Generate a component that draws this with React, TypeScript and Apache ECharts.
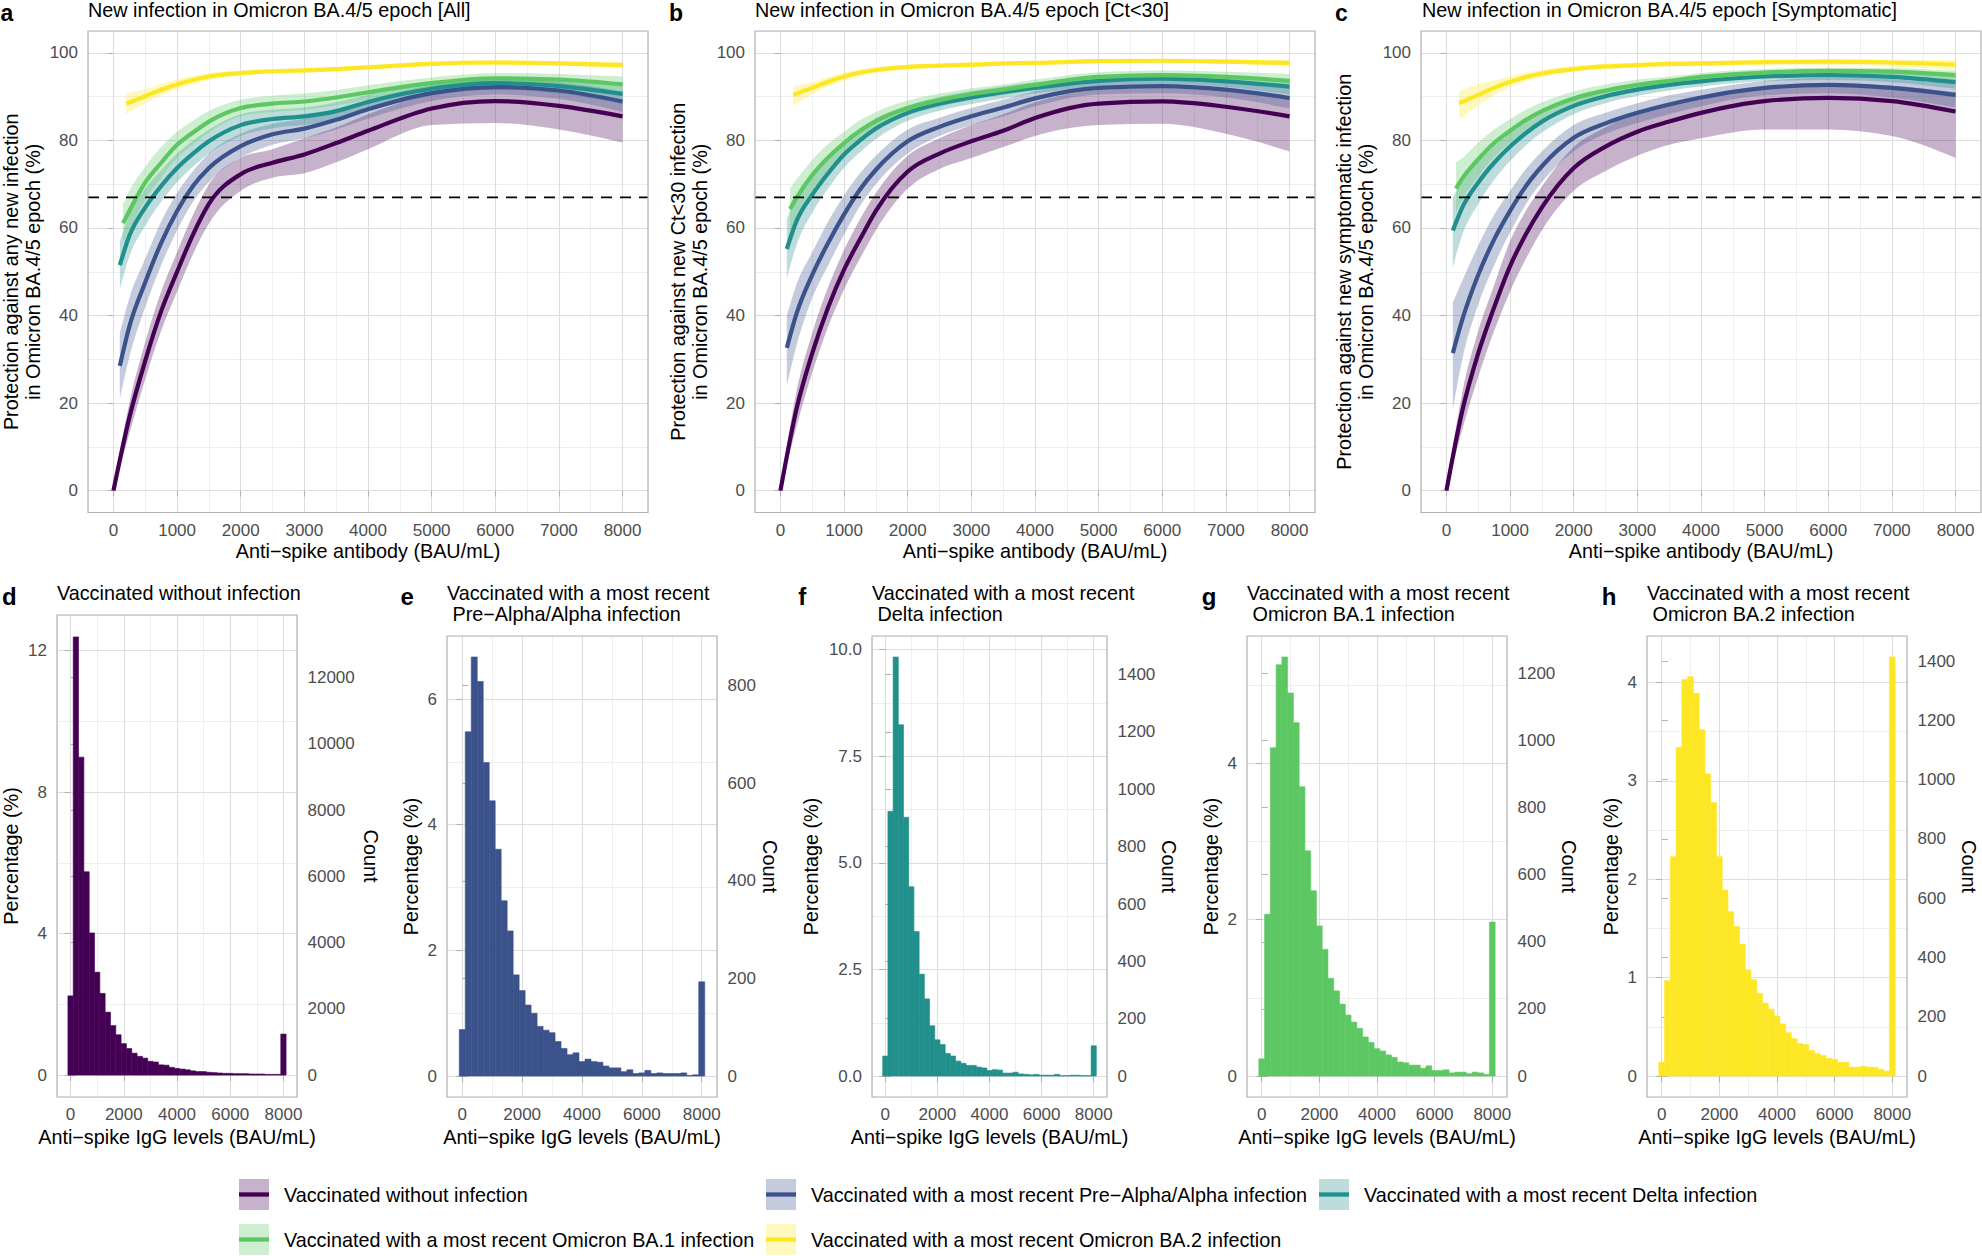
import React, { useEffect, useRef } from "react";
import * as echarts from "echarts";

// ---------------- data ----------------
const GROUPS = [
  "Vaccinated without infection",
  "Vaccinated with a most recent Pre−Alpha/Alpha infection",
  "Vaccinated with a most recent Delta infection",
  "Vaccinated with a most recent Omicron BA.1 infection",
  "Vaccinated with a most recent Omicron BA.2 infection",
];
const GROUP_COLORS = ["#440154", "#3B528B", "#21908C", "#5DC863", "#FDE725"];
const THRESHOLD = 67;

const X_PURPLE = [0, 250, 500, 750, 1000, 1250, 1500, 2000, 2500, 3000, 3500, 4000, 5000, 6000, 7000, 8000];
const X_BLUE = [100, 250, 500, 750, 1000, 1250, 1500, 2000, 2500, 3000, 3500, 4000, 5000, 6000, 7000, 8000];
const X_TEAL = [100, 250, 500, 750, 1000, 1250, 1500, 2000, 2500, 3000, 3500, 4000, 5000, 6000, 7000, 8000];
const X_GREEN = [150, 250, 500, 750, 1000, 1250, 1500, 2000, 2500, 3000, 3500, 4000, 5000, 6000, 7000, 8000];
const X_YELLOW = [200, 500, 750, 1000, 1250, 1500, 2000, 2500, 3000, 3500, 4000, 5000, 6000, 7000, 8000];

// Panel a: [All]
const A_PURPLE_FIT = [0, 16.7, 29.7, 41, 50, 58.5, 65.5, 72.3, 74.9, 76.8, 79.4, 82.2, 87.3, 89, 87.9, 85.5];
const A_PURPLE_LO = [0, 13, 25.5, 36.5, 45.5, 54, 61, 68.5, 71.5, 72.5, 75, 78, 83.5, 84, 82.5, 79.5];
const A_PURPLE_HI = [0.6, 20, 34, 45.5, 54.5, 63, 70, 76, 78, 80.5, 83, 86, 90.5, 92, 91, 88.5];
const A_BLUE_FIT = [28.5, 37.5, 47.6, 56.6, 63.9, 69.6, 73.7, 78.7, 81.4, 82.7, 84.7, 87.1, 90.8, 92.2, 91.4, 88.9];
const A_BLUE_LO = [21, 30.5, 42, 51.5, 59.5, 66, 70.5, 76, 79, 80.5, 82.5, 85, 89, 90.5, 89.5, 86.5];
const A_BLUE_HI = [36, 44, 53, 61.5, 68, 73, 77, 81.5, 83.8, 85, 87, 89.2, 92.6, 93.9, 93.3, 91.2];
const A_TEAL_FIT = [51.5, 58.2, 64.7, 69.6, 73.7, 77, 79.8, 83.5, 84.9, 85.5, 86.7, 88.8, 91.8, 93.1, 92.4, 90.6];
const A_TEAL_LO = [46, 53.5, 60.5, 66, 70.5, 74, 77, 81, 82.8, 83.5, 84.7, 87, 90.3, 91.6, 90.7, 88.3];
const A_TEAL_HI = [57, 63, 69, 73.2, 77, 80, 82.5, 86, 87, 87.5, 88.7, 90.5, 93.2, 94.5, 94, 92.8];
const A_GREEN_FIT = [61.1, 63.9, 70.4, 74.9, 79, 81.8, 84.3, 87.4, 88.4, 88.9, 89.8, 91, 93.1, 94.2, 93.9, 92.8];
const A_GREEN_LO = [56.5, 59.5, 66.5, 71.5, 76, 79, 81.8, 85.5, 86.5, 87, 88, 89.3, 91.8, 93, 92.5, 90.8];
const A_GREEN_HI = [65.5, 68.5, 74, 78.5, 82, 84.5, 86.7, 89.3, 90.2, 90.7, 91.5, 92.6, 94.4, 95.4, 95.2, 94.6];
const A_YELLOW_FIT = [88.4, 90.1, 91.6, 92.8, 93.8, 94.6, 95.4, 95.8, 96, 96.3, 96.7, 97.5, 97.8, 97.6, 97.2];
const A_YELLOW_LO = [86, 88.5, 90.3, 91.7, 92.8, 93.8, 94.8, 95.3, 95.5, 95.8, 96.2, 97, 97.3, 97.1, 96.5];
const A_YELLOW_HI = [90.8, 91.7, 92.9, 93.9, 94.8, 95.4, 96, 96.3, 96.5, 96.8, 97.2, 98, 98.3, 98.1, 97.9];

// Panel b: [Ct<30]
const B_PURPLE_FIT = [0, 18.5, 31.4, 41.9, 50.5, 57.4, 63.9, 72.9, 77, 79.8, 82.2, 85.1, 88.4, 88.9, 87.7, 85.5];
const B_PURPLE_LO = [0, 14.5, 27, 37.5, 46, 53, 59.5, 69, 73.5, 76, 78.5, 81, 83.5, 83.8, 81.5, 77.5];
const B_PURPLE_HI = [0.6, 22.5, 36, 46.5, 55, 62, 68, 76.5, 80.5, 83.5, 86, 88.7, 91.5, 92, 91.5, 90];
const B_BLUE_FIT = [32.6, 40.3, 49.3, 56.6, 63.1, 68.8, 73.3, 79.8, 83.1, 85.5, 87.5, 89.6, 92, 92.4, 91.6, 89.7];
const B_BLUE_LO = [24, 33, 44, 51.5, 58.5, 65, 70, 77, 81, 83.5, 85.5, 87.8, 90.5, 90.8, 89.8, 87.3];
const B_BLUE_HI = [40, 47, 54.5, 61.5, 67.5, 72.5, 76.5, 82.5, 85.2, 87.4, 89.3, 91.3, 93.5, 93.9, 93.3, 92];
const B_TEAL_FIT = [55.2, 61.5, 67.6, 72.5, 76.8, 80, 82.7, 86.3, 88.4, 89.8, 91, 92, 93.6, 94.1, 93.5, 92.3];
const B_TEAL_LO = [48.5, 56, 63.5, 69, 73.8, 77.3, 80.3, 84.5, 86.8, 88.3, 89.6, 90.7, 92.4, 92.9, 92.2, 90.5];
const B_TEAL_HI = [62, 67, 71.7, 76, 79.8, 82.7, 85.1, 88, 90, 91.3, 92.4, 93.3, 94.8, 95.3, 94.8, 94];
const B_GREEN_FIT = [64.3, 66.8, 72.1, 76.1, 79.4, 82.2, 84.4, 87.4, 89.2, 90.6, 91.6, 92.7, 94.5, 94.9, 94.5, 93.6];
const B_GREEN_LO = [59, 62.5, 68.5, 73, 76.8, 79.8, 82.3, 85.7, 87.7, 89.3, 90.4, 91.5, 93.4, 93.8, 93.3, 92];
const B_GREEN_HI = [69, 71, 75.6, 79.2, 82, 84.6, 86.5, 89.1, 90.7, 91.9, 92.8, 93.9, 95.6, 96, 95.7, 95.2];
const B_YELLOW_FIT = [90.4, 92, 93.4, 94.6, 95.5, 96.1, 96.8, 97.1, 97.3, 97.6, 97.7, 98.1, 98.2, 98, 97.7];
const B_YELLOW_LO = [88, 90.6, 92.3, 93.7, 94.7, 95.4, 96.2, 96.6, 96.8, 97.1, 97.3, 97.7, 97.8, 97.5, 96.9];
const B_YELLOW_HI = [92.5, 93.3, 94.5, 95.5, 96.2, 96.7, 97.3, 97.6, 97.8, 98, 98.1, 98.5, 98.6, 98.5, 98.4];

// Panel c: [Symptomatic]
const C_PURPLE_FIT = [0, 18.3, 31.4, 41.9, 51.3, 58.6, 64.7, 73.7, 78.6, 82, 84.3, 86.3, 89, 89.7, 89, 86.6];
const C_PURPLE_LO = [0, 14, 26, 36.5, 45.5, 53, 59.5, 68.5, 73, 76.5, 79, 80.5, 82.5, 82.5, 81, 76];
const C_PURPLE_HI = [0.6, 22.5, 36.5, 47, 57, 64, 69.5, 78.5, 83, 86.5, 88.5, 90, 92, 93, 92.5, 91];
const C_BLUE_FIT = [31.4, 39.1, 49.3, 57.4, 63.9, 69.6, 74.1, 80.6, 83.9, 86.3, 88.2, 89.8, 92, 92.7, 92, 90.4];
const C_BLUE_LO = [18.5, 30, 42.5, 51.5, 59, 65.5, 70.5, 77.5, 81.5, 84, 86, 87.8, 90.3, 90.8, 89.8, 87.5];
const C_BLUE_HI = [43, 48, 56, 63, 68.5, 73.5, 77.5, 83.5, 86.3, 88.5, 90.3, 91.6, 93.6, 94.4, 94, 93];
const C_TEAL_FIT = [59.4, 64.7, 70.4, 74.9, 78.6, 81.7, 84.3, 87.9, 90.1, 91.6, 92.7, 93.5, 94.6, 94.9, 94.5, 93.3];
const C_TEAL_LO = [51, 58.5, 65.5, 71, 75.3, 78.9, 81.8, 86, 88.5, 90.2, 91.4, 92.3, 93.5, 93.8, 93.3, 91.8];
const C_TEAL_HI = [67, 70.5, 75, 78.6, 81.7, 84.3, 86.6, 89.7, 91.6, 92.9, 93.9, 94.6, 95.6, 95.9, 95.6, 94.7];
const C_GREEN_FIT = [69, 71.3, 75.7, 79.4, 82.2, 84.7, 86.7, 89.6, 91.4, 92.7, 93.6, 94.5, 95.5, 95.9, 95.7, 94.9];
const C_GREEN_LO = [63.5, 66.5, 71.8, 76.2, 79.6, 82.4, 84.7, 88, 90, 91.5, 92.6, 93.6, 94.7, 95.1, 94.8, 93.8];
const C_GREEN_HI = [75, 76, 79.5, 82.5, 84.9, 87, 88.7, 91.2, 92.8, 93.9, 94.6, 95.4, 96.3, 96.6, 96.5, 95.9];
const C_YELLOW_FIT = [88.5, 90.4, 92, 93.4, 94.5, 95.3, 96.3, 96.9, 97.2, 97.5, 97.6, 97.9, 98, 97.8, 97.3];
const C_YELLOW_LO = [84.7, 88, 90.4, 92.2, 93.5, 94.5, 95.7, 96.3, 96.6, 96.9, 97, 97.2, 97.2, 96.9, 96];
const C_YELLOW_HI = [91.3, 92.8, 93.7, 94.7, 95.5, 96.1, 97, 97.5, 97.8, 98, 98.1, 98.4, 98.5, 98.5, 98.4];

// Histograms (percentage per 200 BAU/mL bin)
const BIN_WIDTH = 200;
const BIN_CENTERS = [0, 200, 400, 600, 800, 1000, 1200, 1400, 1600, 1800, 2000, 2200, 2400, 2600, 2800, 3000, 3200, 3400, 3600, 3800, 4000, 4200, 4400, 4600, 4800, 5000, 5200, 5400, 5600, 5800, 6000, 6200, 6400, 6600, 6800, 7000, 7200, 7400, 7600, 7800, 8000];
const PCT_D = [2.24, 12.39, 8.99, 5.75, 4.02, 2.91, 2.31, 1.78, 1.4, 1.14, 0.89, 0.75, 0.62, 0.53, 0.48, 0.39, 0.37, 0.29, 0.28, 0.22, 0.19, 0.17, 0.15, 0.12, 0.1, 0.1, 0.08, 0.07, 0.06, 0.05, 0.05, 0.04, 0.04, 0.04, 0.03, 0.03, 0.03, 0.02, 0.02, 0.02, 1.16];
const PCT_E = [0.74, 5.48, 6.67, 6.28, 4.99, 4.38, 3.61, 2.79, 2.31, 1.61, 1.36, 1.13, 1.0, 0.79, 0.73, 0.69, 0.55, 0.44, 0.34, 0.37, 0.23, 0.27, 0.23, 0.22, 0.16, 0.13, 0.13, 0.07, 0.1, 0.04, 0.05, 0.09, 0.04, 0.05, 0.04, 0.04, 0.04, 0.05, 0.01, 0.02, 1.5];
const PCT_F = [0.47, 6.21, 9.83, 8.24, 6.07, 4.44, 3.39, 2.39, 1.81, 1.18, 0.85, 0.74, 0.53, 0.47, 0.35, 0.3, 0.25, 0.25, 0.21, 0.19, 0.13, 0.15, 0.14, 0.07, 0.07, 0.09, 0.05, 0.04, 0.03, 0.04, 0.02, 0.02, 0.02, 0.04, 0.01, 0.01, 0.02, 0.02, 0.01, 0.01, 0.71];
const PCT_G = [0.22, 2.07, 4.2, 5.26, 5.36, 4.9, 4.52, 3.7, 2.88, 2.37, 1.92, 1.62, 1.25, 1.09, 0.92, 0.78, 0.69, 0.61, 0.5, 0.43, 0.35, 0.32, 0.27, 0.24, 0.18, 0.17, 0.14, 0.14, 0.1, 0.13, 0.07, 0.07, 0.08, 0.04, 0.05, 0.05, 0.03, 0.05, 0.04, 0.02, 1.97];
const PCT_H = [0.14, 0.97, 2.23, 3.34, 4.03, 4.06, 3.89, 3.52, 3.07, 2.78, 2.23, 1.89, 1.67, 1.52, 1.34, 1.08, 0.98, 0.84, 0.74, 0.68, 0.61, 0.53, 0.44, 0.38, 0.33, 0.32, 0.26, 0.23, 0.21, 0.18, 0.17, 0.14, 0.14, 0.09, 0.09, 0.1, 0.09, 0.09, 0.07, 0.05, 4.26];
// total counts (for secondary count axis)
const N_D = 106800;
const N_E = 12870;
const N_F = 14870;
const N_G = 23300;
const N_H = 33200;

// tick labels
const TOP_X_TICKS = [0, 1000, 2000, 3000, 4000, 5000, 6000, 7000, 8000];
const TOP_Y_TICKS = [0, 20, 40, 60, 80, 100];
const HIST_X_TICKS = [0, 2000, 4000, 6000, 8000];
const D_Y_TICKS = [0, 4, 8, 12];
const E_Y_TICKS = [0, 2, 4, 6];
const F_Y_TICKS = [0, 2.5, 5, 7.5, 10];
const G_Y_TICKS = [0, 2, 4];
const H_Y_TICKS = [0, 1, 2, 3, 4];
const D_COUNT_TICKS = [0, 2000, 4000, 6000, 8000, 10000, 12000];
const E_COUNT_TICKS = [0, 200, 400, 600, 800];
const F_COUNT_TICKS = [0, 200, 400, 600, 800, 1000, 1200, 1400];
const G_COUNT_TICKS = [0, 200, 400, 600, 800, 1000, 1200];
const H_COUNT_TICKS = [0, 200, 400, 600, 800, 1000, 1200, 1400];

const TOP_TITLES = [
  "New infection in Omicron BA.4/5 epoch [All]",
  "New infection in Omicron BA.4/5 epoch [Ct<30]",
  "New infection in Omicron BA.4/5 epoch [Symptomatic]",
];
const TOP_Y_TITLES = [
  "Protection against any new infection\nin Omicron BA.4/5 epoch (%)",
  "Protection against new Ct<30 infection\nin Omicron BA.4/5 epoch (%)",
  "Protection against new symptomatic infection\nin Omicron BA.4/5 epoch (%)",
];
const TOP_X_TITLE = "Anti−spike antibody (BAU/mL)";
const HIST_X_TITLE = "Anti−spike IgG levels (BAU/mL)";
const HIST_TITLES = [
  ["Vaccinated without infection"],
  ["Vaccinated with a most recent", " Pre−Alpha/Alpha infection"],
  ["Vaccinated with a most recent", " Delta infection"],
  ["Vaccinated with a most recent", " Omicron BA.1 infection"],
  ["Vaccinated with a most recent", " Omicron BA.2 infection"],
];

// ---------------- layout / style ----------------
const W = 1982;
const H = 1256;
const FONT = "'Liberation Sans', Arial, Helvetica, sans-serif";
const TICK_COLOR = "#4D4D4D";
const MAJOR_GRID = "#DEDEDE";
const MINOR_GRID = "#EFEFEF";
const BORDER = "#B3B3B3";
const TXT_SIZE = 19.8;
const TICK_SIZE = 17;

const TOP_RECTS = [
  { left: 88, top: 31, width: 560, height: 481.5 },
  { left: 755, top: 31, width: 560, height: 481.5 },
  { left: 1421, top: 31, width: 560, height: 481.5 },
];
const TOP_TITLE_X = [88, 755, 1422];
const TOP_TAG_X = [0.5, 669, 1335];
const TOP_TAGS = ["a", "b", "c"];
const TOP_YTITLE_X = [21.7, 688.8, 1355.2];

const BOT_RECTS = [
  { left: 57, top: 615, width: 240, height: 482 },
  { left: 447, top: 636, width: 270, height: 461 },
  { left: 872, top: 636, width: 235, height: 461 },
  { left: 1247, top: 636, width: 260, height: 461 },
  { left: 1647, top: 636, width: 260, height: 461 },
];
const BOT_TAGS = ["d", "e", "f", "g", "h"];
const BOT_TAG_X = [2, 400.5, 798.3, 1201.7, 1601.7];
const BOT_YTITLE_X = [11.2, 411.3, 811.3, 1211.3, 1611.3];
const BOT_COUNT_X = [370.5, 770, 1169.3, 1569.3, 1968.7];

const LEGEND_POS = [
  { x: 239, y: 1194.5 },
  { x: 766, y: 1194.5 },
  { x: 1319, y: 1194.5 },
  { x: 239, y: 1239.5 },
  { x: 766, y: 1239.5 },
];

function rgba(hex: string, a: number) {
  const n = parseInt(hex.slice(1), 16);
  return `rgba(${(n >> 16) & 255},${(n >> 8) & 255},${n & 255},${a})`;
}

// monotone cubic (as d3.curveMonotoneX) segments in pixel space
function monotoneSegments(pts: number[][]) {
  const n = pts.length;
  const segs: number[][][] = [];
  if (n < 2) return segs;
  const h: number[] = [];
  const s: number[] = [];
  for (let i = 0; i < n - 1; i++) {
    h[i] = pts[i + 1][0] - pts[i][0];
    s[i] = (pts[i + 1][1] - pts[i][1]) / (h[i] || 1e-9);
  }
  const m = new Array(n).fill(0);
  for (let i = 1; i < n - 1; i++) {
    const p = (s[i - 1] * h[i] + s[i] * h[i - 1]) / (h[i - 1] + h[i]);
    m[i] = (Math.sign(s[i - 1]) + Math.sign(s[i])) * Math.min(Math.abs(s[i - 1]), Math.abs(s[i]), 0.5 * Math.abs(p)) || 0;
  }
  m[0] = n > 2 ? (3 * s[0] - m[1]) / 2 : s[0];
  m[n - 1] = n > 2 ? (3 * s[n - 2] - m[n - 2]) / 2 : s[n - 2];
  for (let i = 0; i < n - 1; i++) {
    const dx = h[i] / 3;
    segs.push([
      pts[i],
      [pts[i][0] + dx, pts[i][1] + m[i] * dx],
      [pts[i + 1][0] - dx, pts[i + 1][1] - m[i + 1] * dx],
      pts[i + 1],
    ]);
  }
  return segs;
}

function f(v: number) {
  return Math.round(v * 100) / 100;
}

function curvePath(pts: number[][]) {
  let d = `M${f(pts[0][0])},${f(pts[0][1])}`;
  monotoneSegments(pts).forEach((sg) => {
    d += `C${f(sg[1][0])},${f(sg[1][1])} ${f(sg[2][0])},${f(sg[2][1])} ${f(sg[3][0])},${f(sg[3][1])}`;
  });
  return d;
}

function ribbonPath(up: number[][], dn: number[][]) {
  let d = curvePath(up);
  const n = dn.length;
  d += `L${f(dn[n - 1][0])},${f(dn[n - 1][1])}`;
  const segs = monotoneSegments(dn);
  for (let i = segs.length - 1; i >= 0; i--) {
    const sg = segs[i];
    d += `C${f(sg[2][0])},${f(sg[2][1])} ${f(sg[1][0])},${f(sg[1][1])} ${f(sg[0][0])},${f(sg[0][1])}`;
  }
  return d + "Z";
}

function tickFormatter(ticks: number[], dec: number) {
  return (v: number) => (ticks.some((t) => Math.abs(t - v) < 1e-6) ? (dec > 0 ? v.toFixed(dec) : String(Math.round(v))) : "");
}

function buildOption() {
  const grids: any[] = [];
  const xAxes: any[] = [];
  const yAxes: any[] = [];
  const series: any[] = [];
  const graphics: any[] = [];

  const majorAxis = (grid: number, min: number, max: number, ticks: number[], dec: number, isX: boolean, margin: number) => ({
    type: "value",
    gridIndex: grid,
    min,
    max,
    position: isX ? "bottom" : "left",
    minInterval: ticks[1] - ticks[0],
    maxInterval: ticks[1] - ticks[0],
    z: 1,
    axisLine: { show: false },
    axisTick: { show: true, length: 6, lineStyle: { color: BORDER, width: 1.1 }, customValues: ticks },
    axisLabel: {
      show: true,
      margin,
      color: TICK_COLOR,
      fontSize: TICK_SIZE,
      fontFamily: FONT,
      formatter: tickFormatter(ticks, dec),
      customValues: ticks,
    },
    splitLine: { show: true, lineStyle: { color: MAJOR_GRID, width: 1.1 } },
    minorTick: { show: false },
    minorSplitLine: { show: false },
  });
  const minorAxis = (grid: number, min: number, max: number, step: number, isX: boolean) => ({
    type: "value",
    gridIndex: grid,
    min,
    max,
    position: isX ? "top" : "right",
    minInterval: step,
    maxInterval: step,
    z: 0,
    axisLine: { show: false },
    axisTick: { show: false },
    axisLabel: { show: false },
    splitLine: { show: true, lineStyle: { color: MINOR_GRID, width: 1 } },
  });

  const border = (r: any) => ({
    type: "rect",
    silent: true,
    z: 100,
    shape: { x: r.left, y: r.top, width: r.width, height: r.height },
    style: { fill: "none", stroke: BORDER, lineWidth: 1.2 },
  });
  const text = (x: number, y: number, t: string, extra: any = {}, rot = 0) => ({
    type: "text",
    silent: true,
    z: 100,
    x,
    y,
    rotation: rot,
    style: {
      text: t,
      fill: "#000000",
      fontSize: TXT_SIZE,
      fontFamily: FONT,
      align: "left",
      verticalAlign: "middle",
      ...extra,
    },
  });

  // ---------------- top panels ----------------
  const TOP_DATA = [
    {
      fit: [A_PURPLE_FIT, A_BLUE_FIT, A_TEAL_FIT, A_GREEN_FIT, A_YELLOW_FIT],
      lo: [A_PURPLE_LO, A_BLUE_LO, A_TEAL_LO, A_GREEN_LO, A_YELLOW_LO],
      hi: [A_PURPLE_HI, A_BLUE_HI, A_TEAL_HI, A_GREEN_HI, A_YELLOW_HI],
    },
    {
      fit: [B_PURPLE_FIT, B_BLUE_FIT, B_TEAL_FIT, B_GREEN_FIT, B_YELLOW_FIT],
      lo: [B_PURPLE_LO, B_BLUE_LO, B_TEAL_LO, B_GREEN_LO, B_YELLOW_LO],
      hi: [B_PURPLE_HI, B_BLUE_HI, B_TEAL_HI, B_GREEN_HI, B_YELLOW_HI],
    },
    {
      fit: [C_PURPLE_FIT, C_BLUE_FIT, C_TEAL_FIT, C_GREEN_FIT, C_YELLOW_FIT],
      lo: [C_PURPLE_LO, C_BLUE_LO, C_TEAL_LO, C_GREEN_LO, C_YELLOW_LO],
      hi: [C_PURPLE_HI, C_BLUE_HI, C_TEAL_HI, C_GREEN_HI, C_YELLOW_HI],
    },
  ];
  const XS = [X_PURPLE, X_BLUE, X_TEAL, X_GREEN, X_YELLOW];
  const TX_MIN = -400, TX_MAX = 8400, TY_MIN = -5, TY_MAX = 105;

  TOP_DATA.forEach((pd, g) => {
    const r = TOP_RECTS[g];
    grids.push({ ...r, show: false, containLabel: false, outerBoundsMode: "none" });
    const xi = xAxes.length;
    xAxes.push(majorAxis(g, TX_MIN, TX_MAX, TOP_X_TICKS, 0, true, 9));
    xAxes.push(minorAxis(g, TX_MIN, TX_MAX, 500, true));
    const yi = yAxes.length;
    yAxes.push(majorAxis(g, TY_MIN, TY_MAX, TOP_Y_TICKS, 0, false, 10));
    yAxes.push(minorAxis(g, TY_MIN, TY_MAX, 10, false));

    // ribbons
    for (let s = 0; s < 5; s++) {
      const xs = XS[s], lo = pd.lo[s], hi = pd.hi[s];
      const col = GROUP_COLORS[s];
      series.push({
        type: "custom",
        name: GROUPS[s] + " CI",
        xAxisIndex: xi,
        yAxisIndex: yi,
        z: 1,
        silent: true,
        data: xs.map((x, i) => [x, lo[i], hi[i]]),
        encode: { x: 0, y: [1, 2] },
        renderItem: (params: any, api: any) => {
          if (params.dataIndex !== 0) return null;
          const up = xs.map((x, i) => api.coord([x, hi[i]]));
          const dn = xs.map((x, i) => api.coord([x, lo[i]]));
          return { type: "path", shape: { pathData: ribbonPath(up, dn) }, style: { fill: rgba(col, 0.3), stroke: "none" } };
        },
      });
    }
    // fitted lines
    for (let s = 0; s < 5; s++) {
      const xs = XS[s], fit = pd.fit[s];
      const col = GROUP_COLORS[s];
      series.push({
        type: "custom",
        name: GROUPS[s],
        xAxisIndex: xi,
        yAxisIndex: yi,
        z: 3,
        silent: true,
        data: xs.map((x, i) => [x, fit[i]]),
        encode: { x: 0, y: 1 },
        renderItem: (params: any, api: any) => {
          if (params.dataIndex !== 0) return null;
          const pts = xs.map((x, i) => api.coord([x, fit[i]]));
          return {
            type: "path",
            shape: { pathData: curvePath(pts) },
            style: { fill: "none", stroke: col, lineWidth: 4.2, lineJoin: "round", lineCap: "butt" },
          };
        },
      });
    }
    // threshold
    series.push({
      type: "custom",
      name: "threshold",
      xAxisIndex: xi,
      yAxisIndex: yi,
      z: 4,
      silent: true,
      data: [[0, THRESHOLD]],
      encode: { x: 0, y: 1 },
      renderItem: (params: any, api: any) => {
        const y = api.coord([0, api.value(1)])[1];
        const cs = params.coordSys;
        return {
          type: "line",
          shape: { x1: cs.x, y1: y, x2: cs.x + cs.width, y2: y },
          style: { stroke: "#000000", lineWidth: 1.6, lineDash: [11, 8] },
        };
      },
    });

    graphics.push(border(r));
    graphics.push(text(TOP_TITLE_X[g], 10, TOP_TITLES[g]));
    graphics.push(text(TOP_TAG_X[g], 13, TOP_TAGS[g], { fontSize: 23, fontWeight: "bold" }));
    graphics.push(text(r.left + r.width / 2, 551, TOP_X_TITLE, { align: "center" }));
    graphics.push(
      text(TOP_YTITLE_X[g], r.top + r.height / 2, TOP_Y_TITLES[g], { align: "center", lineHeight: 22.3 }, Math.PI / 2)
    );
  });

  // ---------------- histograms ----------------
  const HISTS = [
    { pct: PCT_D, n: N_D, yTicks: D_Y_TICKS, dec: 0, cTicks: D_COUNT_TICKS },
    { pct: PCT_E, n: N_E, yTicks: E_Y_TICKS, dec: 0, cTicks: E_COUNT_TICKS },
    { pct: PCT_F, n: N_F, yTicks: F_Y_TICKS, dec: 1, cTicks: F_COUNT_TICKS },
    { pct: PCT_G, n: N_G, yTicks: G_Y_TICKS, dec: 0, cTicks: G_COUNT_TICKS },
    { pct: PCT_H, n: N_H, yTicks: H_Y_TICKS, dec: 0, cTicks: H_COUNT_TICKS },
  ];
  const HX_MIN = -510, HX_MAX = 8510;

  HISTS.forEach((hd, k) => {
    const g = 3 + k;
    const r = BOT_RECTS[k];
    const top = Math.max(...hd.pct);
    const ymin = -0.05 * top, ymax = 1.05 * top;
    grids.push({ ...r, show: false, containLabel: false, outerBoundsMode: "none" });
    const xi = xAxes.length;
    xAxes.push(majorAxis(g, HX_MIN, HX_MAX, HIST_X_TICKS, 0, true, 8.5));
    xAxes.push(minorAxis(g, HX_MIN, HX_MAX, 1000, true));
    const yi = yAxes.length;
    yAxes.push(majorAxis(g, ymin, ymax, hd.yTicks, hd.dec, false, 10));
    const cStep = hd.cTicks[1] - hd.cTicks[0];
    yAxes.push({
      type: "value",
      gridIndex: g,
      position: "right",
      min: (ymin * hd.n) / 100,
      max: (ymax * hd.n) / 100,
      minInterval: cStep,
      maxInterval: cStep,
      z: 1,
      axisLine: { show: false },
      axisTick: { show: true, length: 6, lineStyle: { color: BORDER, width: 1.1 }, customValues: hd.cTicks },
      axisLabel: {
        show: true,
        margin: 10.5,
        color: TICK_COLOR,
        fontSize: TICK_SIZE,
        fontFamily: FONT,
        formatter: tickFormatter(hd.cTicks, 0),
        customValues: hd.cTicks,
      },
      splitLine: { show: false },
    });
    const yStep = hd.yTicks[1] - hd.yTicks[0];
    yAxes.push(minorAxis(g, ymin, ymax, yStep / 2, false));

    const col = GROUP_COLORS[k];
    series.push({
      type: "custom",
      name: GROUPS[k] + " histogram",
      xAxisIndex: xi,
      yAxisIndex: yi,
      z: 2,
      silent: true,
      data: BIN_CENTERS.map((c, i) => [c, hd.pct[i]]),
      encode: { x: 0, y: 1 },
      renderItem: (params: any, api: any) => {
        const c = api.value(0), v = api.value(1);
        const p0 = api.coord([c - BIN_WIDTH / 2, 0]);
        const p1 = api.coord([c + BIN_WIDTH / 2, v]);
        return {
          type: "rect",
          shape: { x: p0[0], y: p1[1], width: p1[0] - p0[0], height: p0[1] - p1[1] },
          style: { fill: col, stroke: col, lineWidth: 0.6 },
        };
      },
    });

    graphics.push(border(r));
    const lines = HIST_TITLES[k];
    lines.forEach((ln, li) => graphics.push(text(r.left, 593 + li * 20.6, ln, { whiteSpace: "pre" })));
    graphics.push(text(BOT_TAG_X[k], 596.5, BOT_TAGS[k], { fontSize: 24, fontWeight: "bold" }));
    graphics.push(text(r.left + r.width / 2, 1137, HIST_X_TITLE, { align: "center" }));
    graphics.push(text(BOT_YTITLE_X[k], r.top + r.height / 2, "Percentage (%)", { align: "center" }, Math.PI / 2));
    graphics.push(text(BOT_COUNT_X[k], r.top + r.height / 2, "Count", { align: "center" }, -Math.PI / 2));
  });

  // ---------------- legend ----------------
  LEGEND_POS.forEach((p, s) => {
    graphics.push({
      type: "rect",
      silent: true,
      z: 100,
      shape: { x: p.x, y: p.y - 15.5, width: 30, height: 31 },
      style: { fill: rgba(GROUP_COLORS[s], 0.3), stroke: "none" },
    });
    graphics.push({
      type: "line",
      silent: true,
      z: 101,
      shape: { x1: p.x, y1: p.y, x2: p.x + 30, y2: p.y },
      style: { stroke: GROUP_COLORS[s], lineWidth: 4.3 },
    });
    graphics.push(text(p.x + 45, p.y, GROUPS[s]));
  });

  return {
    animation: false,
    backgroundColor: "#ffffff",
    textStyle: { fontFamily: FONT },
    grid: grids,
    xAxis: xAxes,
    yAxis: yAxes,
    series,
    graphic: { elements: graphics },
  };
}

export default function App() {
  const ref = useRef<HTMLDivElement>(null);
  useEffect(() => {
    document.body.style.margin = "0";
    document.body.style.overflow = "hidden";
    if (!ref.current) return;
    const chart = echarts.init(ref.current, null, { renderer: "svg", width: W, height: H });
    chart.setOption(buildOption() as any);
    return () => chart.dispose();
  }, []);
  return <div ref={ref} style={{ position: "absolute", left: 0, top: 0, width: W, height: H, background: "#fff" }} />;
}
